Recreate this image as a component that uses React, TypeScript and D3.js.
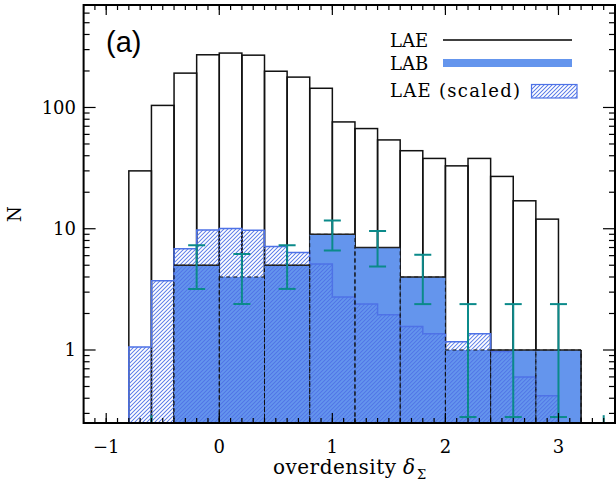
import React from 'react';
import * as d3 from 'd3';

// LAE histogram (bin width 0.2), left edges
const laeEdges = [-0.8, -0.6, -0.4, -0.2, 0.0, 0.2, 0.4, 0.6, 0.8, 1.0, 1.2, 1.4, 1.6, 1.8, 2.0, 2.2, 2.4, 2.6, 2.8];
const laeCounts = [30, 104, 192, 272, 281, 270, 199, 178, 144, 76, 67, 54, 44, 38, 33, 38, 27, 17, 12];
// LAE scaled histogram (same bins)
const laeScaled = [1.06, 3.72, 6.84, 9.75, 10.06, 9.7, 7.14, 6.37, 5.13, 2.74, 2.39, 1.95, 1.56, 1.36, 1.17, 1.36, 0.97, 0.6, 0.42];
// LAB histogram (bin width 0.4), left edges
const labEdges = [-0.4, 0.0, 0.4, 0.8, 1.2, 1.6, 2.0, 2.4, 2.8];
const labCounts = [5, 4, 5, 9, 7, 4, 1, 1, 1];
const labSolidTop = [true, false, true, true, true, true, false, true, true];
// Error bars
const errX = [-0.6, -0.2, 0.2, 0.6, 1.0, 1.4, 1.8, 2.2, 2.6, 3.0, 3.4];
const errLow = [0, 3.19, 2.39, 3.19, 6.6, 4.88, 2.39, 0.28, 0.28, 0.28, 0];
const errHigh = [0.29, 7.3, 6.18, 7.3, 11.7, 9.6, 6.1, 2.39, 2.39, 2.39, 0.29];

const xTicks = [-1, 0, 1, 2, 3];
const xTickLabels = ['\u22121', '0', '1', '2', '3'];
const yTicks = [1, 10, 100];
const yTickLabels = ['1', '10', '100'];

const W = 616, H = 482;
const L = 83.6, R = 615, T = 5, B = 423;
const laeW = 0.2, labW = 0.4;

export default function App() {
  const x = d3.scaleLinear().domain([-1.2, 3.5]).range([L, R]);
  const y = d3.scaleLog().domain([0.25, 700]).range([B, T]);
  const yc = (v: number) => (v <= 0.25 ? B : y(v));

  // step path for scaled LAE
  let scaledPath = `M${x(laeEdges[0])},${B}`;
  laeEdges.forEach((e, i) => {
    scaledPath += `L${x(e)},${yc(laeScaled[i])}L${x(e + laeW)},${yc(laeScaled[i])}`;
  });
  scaledPath += `L${x(laeEdges[laeEdges.length - 1] + laeW)},${B}Z`;

  const xMinor = d3.range(-12, 36).map((d) => d / 10);
  const yMinor: number[] = [];
  [0.1, 1, 10, 100].forEach((dec) => {
    for (let k = 2; k <= 9; k++) {
      const v = dec * k;
      if (v > 0.25 && v < 700) yMinor.push(v);
    }
  });

  const font = '"DejaVu Serif", serif';
  const teal = '#0b8a8a';
  const hatchBlue = '#4e72e6';

  return (
    <svg width={W} height={H} style={{ position: 'absolute', left: 0, top: 0, background: '#fff' }}>
      <defs>
        <clipPath id="plot">
          <rect x={L} y={T} width={R - L} height={B - T} />
        </clipPath>
        <pattern id="hatch" patternUnits="userSpaceOnUse" width="2.83" height="10" patternTransform="rotate(45)">
          <rect x="0" y="0" width="0.85" height="10" fill={hatchBlue} />
        </pattern>
      </defs>
      <rect x={0} y={0} width={W} height={H} fill="#fff" />
      <g clipPath="url(#plot)">
        {/* LAE outline bars */}
        {laeEdges.map((e, i) => (
          <rect key={'lae' + i} x={x(e)} y={y(laeCounts[i])} width={x(e + laeW) - x(e)} height={B - y(laeCounts[i])}
            fill="none" stroke="#111" strokeWidth={1.5} />
        ))}
        {/* LAB filled bars */}
        {labEdges.map((e, i) => (
          <rect key={'labf' + i} x={x(e)} y={y(labCounts[i])} width={x(e + labW) - x(e)} height={B - y(labCounts[i])}
            fill="#6495ED" stroke="none" />
        ))}
        {/* scaled LAE hatched */}
        <path d={scaledPath} fill="url(#hatch)" stroke={hatchBlue} strokeWidth={1.5} />
        {/* LAB dashed outlines */}
        {labEdges.map((e, i) => (
          <rect key={'labd' + i} x={x(e)} y={y(labCounts[i])} width={x(e + labW) - x(e)} height={B - y(labCounts[i])}
            fill="none" stroke="#111" strokeWidth={1} strokeDasharray="4,3" />
        ))}
        {/* LAB solid tops */}
        {labEdges.map((e, i) => labSolidTop[i] ? (
          <line key={'labs' + i} x1={x(e)} x2={x(e + labW)} y1={y(labCounts[i])} y2={y(labCounts[i])}
            stroke="#222" strokeWidth={1.5} />
        ) : null)}
        <line x1={x(labEdges[labEdges.length - 1] + labW)} x2={x(labEdges[labEdges.length - 1] + labW)}
          y1={y(labCounts[labCounts.length - 1])} y2={B} stroke="#111" strokeWidth={1.5} />
        {/* error bars */}
        {errX.map((cx, i) => {
          const y1 = yc(errLow[i]);
          const y2 = yc(errHigh[i]);
          const px = x(cx);
          const clipped = errLow[i] <= 0.25;
          return (
            <g key={'err' + i} stroke={teal} strokeWidth={2}>
              <line x1={px} x2={px} y1={y1} y2={y2} />
              <line x1={px - 8.5} x2={px + 8.5} y1={y1} y2={y1} />
              {!clipped && <line x1={px - 8.5} x2={px + 8.5} y1={y2} y2={y2} />}
            </g>
          );
        })}
      </g>
      {/* ticks */}
      <g stroke="#000" strokeWidth={1.2}>
        {xMinor.map((v, i) => (
          <g key={'xm' + i}>
            <line x1={x(v)} x2={x(v)} y1={B} y2={B - 5} />
            <line x1={x(v)} x2={x(v)} y1={T} y2={T + 5} />
          </g>
        ))}
        {xTicks.map((v, i) => (
          <g key={'xM' + i}>
            <line x1={x(v)} x2={x(v)} y1={B} y2={B - 10} />
            <line x1={x(v)} x2={x(v)} y1={T} y2={T + 10} />
          </g>
        ))}
        {yMinor.map((v, i) => (
          <g key={'ym' + i}>
            <line x1={L} x2={L + 6} y1={y(v)} y2={y(v)} />
            <line x1={R} x2={R - 6} y1={y(v)} y2={y(v)} />
          </g>
        ))}
        {yTicks.map((v, i) => (
          <g key={'yM' + i}>
            <line x1={L} x2={L + 12} y1={y(v)} y2={y(v)} />
            <line x1={R} x2={R - 12} y1={y(v)} y2={y(v)} />
          </g>
        ))}
      </g>
      <rect x={L} y={T} width={R - L} height={B - T} fill="none" stroke="#000" strokeWidth={2} />
      {/* tick labels */}
      {xTicks.map((v, i) => (
        <text key={'xl' + i} x={x(v)} y={453} textAnchor="middle" fontFamily={font} fontSize={18}>{xTickLabels[i]}</text>
      ))}
      {yTicks.map((v, i) => (
        <text key={'yl' + i} x={76} y={y(v) + 6.5} textAnchor="end" fontFamily={font} fontSize={18}>{yTickLabels[i]}</text>
      ))}
      {/* axis titles */}
      <text transform="translate(21,214) rotate(-90)" textAnchor="middle" fontFamily={font} fontSize={18}>N</text>
      <text x={273} y={474} fontFamily={font} fontSize={20} textLength={123} lengthAdjust="spacing">overdensity</text>
      <text x={403} y={474} fontFamily={font} fontSize={20} fontStyle="italic">δ</text>
      <text x={417} y={479} fontFamily={font} fontSize={13}>Σ</text>
      {/* panel label */}
      <text x={106} y={52} fontFamily='"Liberation Sans", sans-serif' fontSize={29}>(a)</text>
      {/* legend */}
      <text x={390} y={47} fontFamily={font} fontSize={18}>LAE</text>
      <line x1={443} x2={572} y1={40} y2={40} stroke="#000" strokeWidth={1.5} />
      <text x={390} y={70} fontFamily={font} fontSize={18}>LAB</text>
      <rect x={443} y={59} width={129} height={8} fill="#6495ED" />
      <text x={390} y={97} fontFamily={font} fontSize={18} textLength={130} lengthAdjust="spacing">LAE (scaled)</text>
      <rect x={531.5} y={84.5} width={45.5} height={13.5} fill="url(#hatch)" stroke={hatchBlue} strokeWidth={1.2} />
    </svg>
  );
}
